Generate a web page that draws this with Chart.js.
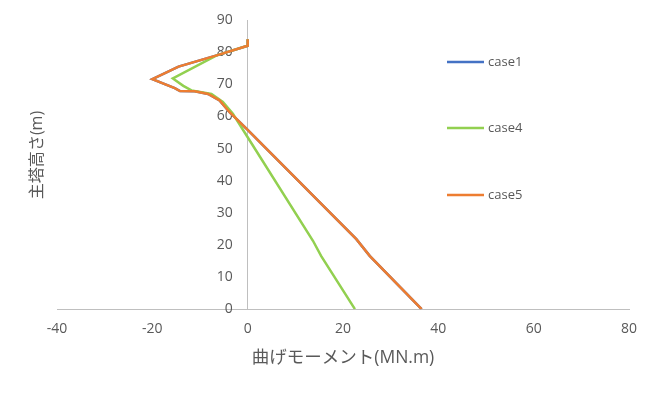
<!DOCTYPE html>
<html>
<head>
<meta charset="utf-8">
<script src="https://cdn.jsdelivr.net/npm/chart.js@4/dist/chart.umd.min.js"></script>
<style>
  html, body { margin: 0; padding: 0; background: #fff; }
  #wrap { width: 660px; height: 396px; }
</style>
</head>
<body>
<div id="wrap"><canvas id="myChart" width="660" height="396"></canvas></div>
<script>
var seriesNames = ["case1", "case4", "case5"];
var lineColors = ["#4472C4", "#92D050", "#ED7D31"];

// 曲げモーメント (x) / 主塔高さ (y)
var case1X = [0, 0, -6.5, -14.5, -20, -15.3, -14.2, -11.1, -8.3, -5.9, -3.8, 0, 22.8, 25.6, 36.5];
var case1Y = [84, 82, 79, 75.5, 71.6, 68.8, 67.9, 67.8, 67, 65, 61.3, 55.8, 21.8, 16.6, 0];
var case4X = [0, 0, -6.5, -15.7, -13.5, -11.8, -7.6, -5.2, -3.1, 0, 13.7, 15.4, 22.5];
var case4Y = [84, 82, 79, 71.8, 69.5, 68.1, 67, 64.5, 60.8, 53.5, 21.3, 16.6, 0];
var case5X = [0, 0, -6.5, -14.5, -20, -15.3, -14.2, -11.1, -8.3, -5.9, -3.8, 0, 22.8, 25.6, 36.5];
var case5Y = [84, 82, 79, 75.5, 71.6, 68.8, 67.9, 67.8, 67, 65, 61.3, 55.8, 21.8, 16.6, 0];

var xTicks = [-40, -20, 0, 20, 40, 60, 80];
var yTicks = [0, 10, 20, 30, 40, 50, 60, 70, 80, 90];

function toPoints(xs, ys) {
  return xs.map((x, i) => ({ x: x, y: ys[i] }));
}

var allX = [case1X, case4X, case5X];
var allY = [case1Y, case4Y, case5Y];

var fontFam = "'Open Sans', 'Noto Sans CJK JP', sans-serif";
var gray = "#595959";

// legend drawn on the right like the original
var legendPlugin = {
  id: "sideLegend",
  afterLayout(chart) {
    // y labels sit a bit left of the axis line at x=0
    var sc = chart.scales.y;
    if (!sc._shifted) {
      var orig = sc.drawLabels;
      sc.drawLabels = function (area) {
        this.ctx.save();
        this.ctx.translate(-15, 0);
        orig.call(this, area);
        this.ctx.restore();
      };
      sc._shifted = true;
    }
  },
  afterDraw(chart) {
    var ctx = chart.ctx;
    var rows = [62, 128, 195];
    ctx.save();
    chart.data.datasets.forEach((ds, i) => {
      ctx.strokeStyle = ds.borderColor;
      ctx.lineWidth = 2.5;
      ctx.beginPath();
      ctx.moveTo(447, rows[i]);
      ctx.lineTo(484, rows[i]);
      ctx.stroke();
      ctx.fillStyle = gray;
      ctx.font = "13px " + fontFam;
      ctx.textBaseline = "middle";
      ctx.textAlign = "left";
      ctx.fillText(ds.label, 488, rows[i]);
    });
    // y axis title
    ctx.translate(37, 155);
    ctx.rotate(-Math.PI / 2);
    ctx.textAlign = "center";
    ctx.textBaseline = "middle";
    ctx.font = "16px " + fontFam;
    ctx.fillText("主塔高さ(m)", 0, 0);
    ctx.restore();
  }
};

new Chart("myChart", {
  type: "scatter",
  data: {
    datasets: seriesNames.map((name, i) => ({
      label: name,
      data: toPoints(allX[i], allY[i]),
      showLine: true,
      borderColor: lineColors[i],
      backgroundColor: lineColors[i],
      borderWidth: 2.5,
      pointRadius: 0,
      tension: 0,
      order: 3 - i
    }))
  },
  options: {
    responsive: false,
    animation: false,
    layout: { padding: { left: 57, right: 31, top: 20, bottom: 27 } },
    plugins: {
      legend: { display: false },
      tooltip: { enabled: false }
    },
    scales: {
      x: {
        type: "linear",
        position: "bottom",
        min: -40, max: 80,
        afterBuildTicks: s => { s.ticks = xTicks.map(v => ({ value: v })); },
        grid: { display: false },
        border: { display: true, color: "#bfbfbf", width: 1 },
        ticks: { color: gray, font: { size: 14, family: fontFam }, padding: 3 },
        title: {
          display: true,
          text: "曲げモーメント(MN.m)",
          color: gray,
          font: { size: 17.5, family: fontFam },
          padding: { top: 8, bottom: 0 }
        }
      },
      y: {
        type: "linear",
        position: { x: 0 },
        min: 0, max: 90,
        afterBuildTicks: s => { s.ticks = yTicks.map(v => ({ value: v })); },
        grid: { display: false },
        border: { display: true, color: "#bfbfbf", width: 1 },
        ticks: { color: gray, font: { size: 14, family: fontFam } }
      }
    }
  },
  plugins: [legendPlugin]
});
</script>
</body>
</html>
